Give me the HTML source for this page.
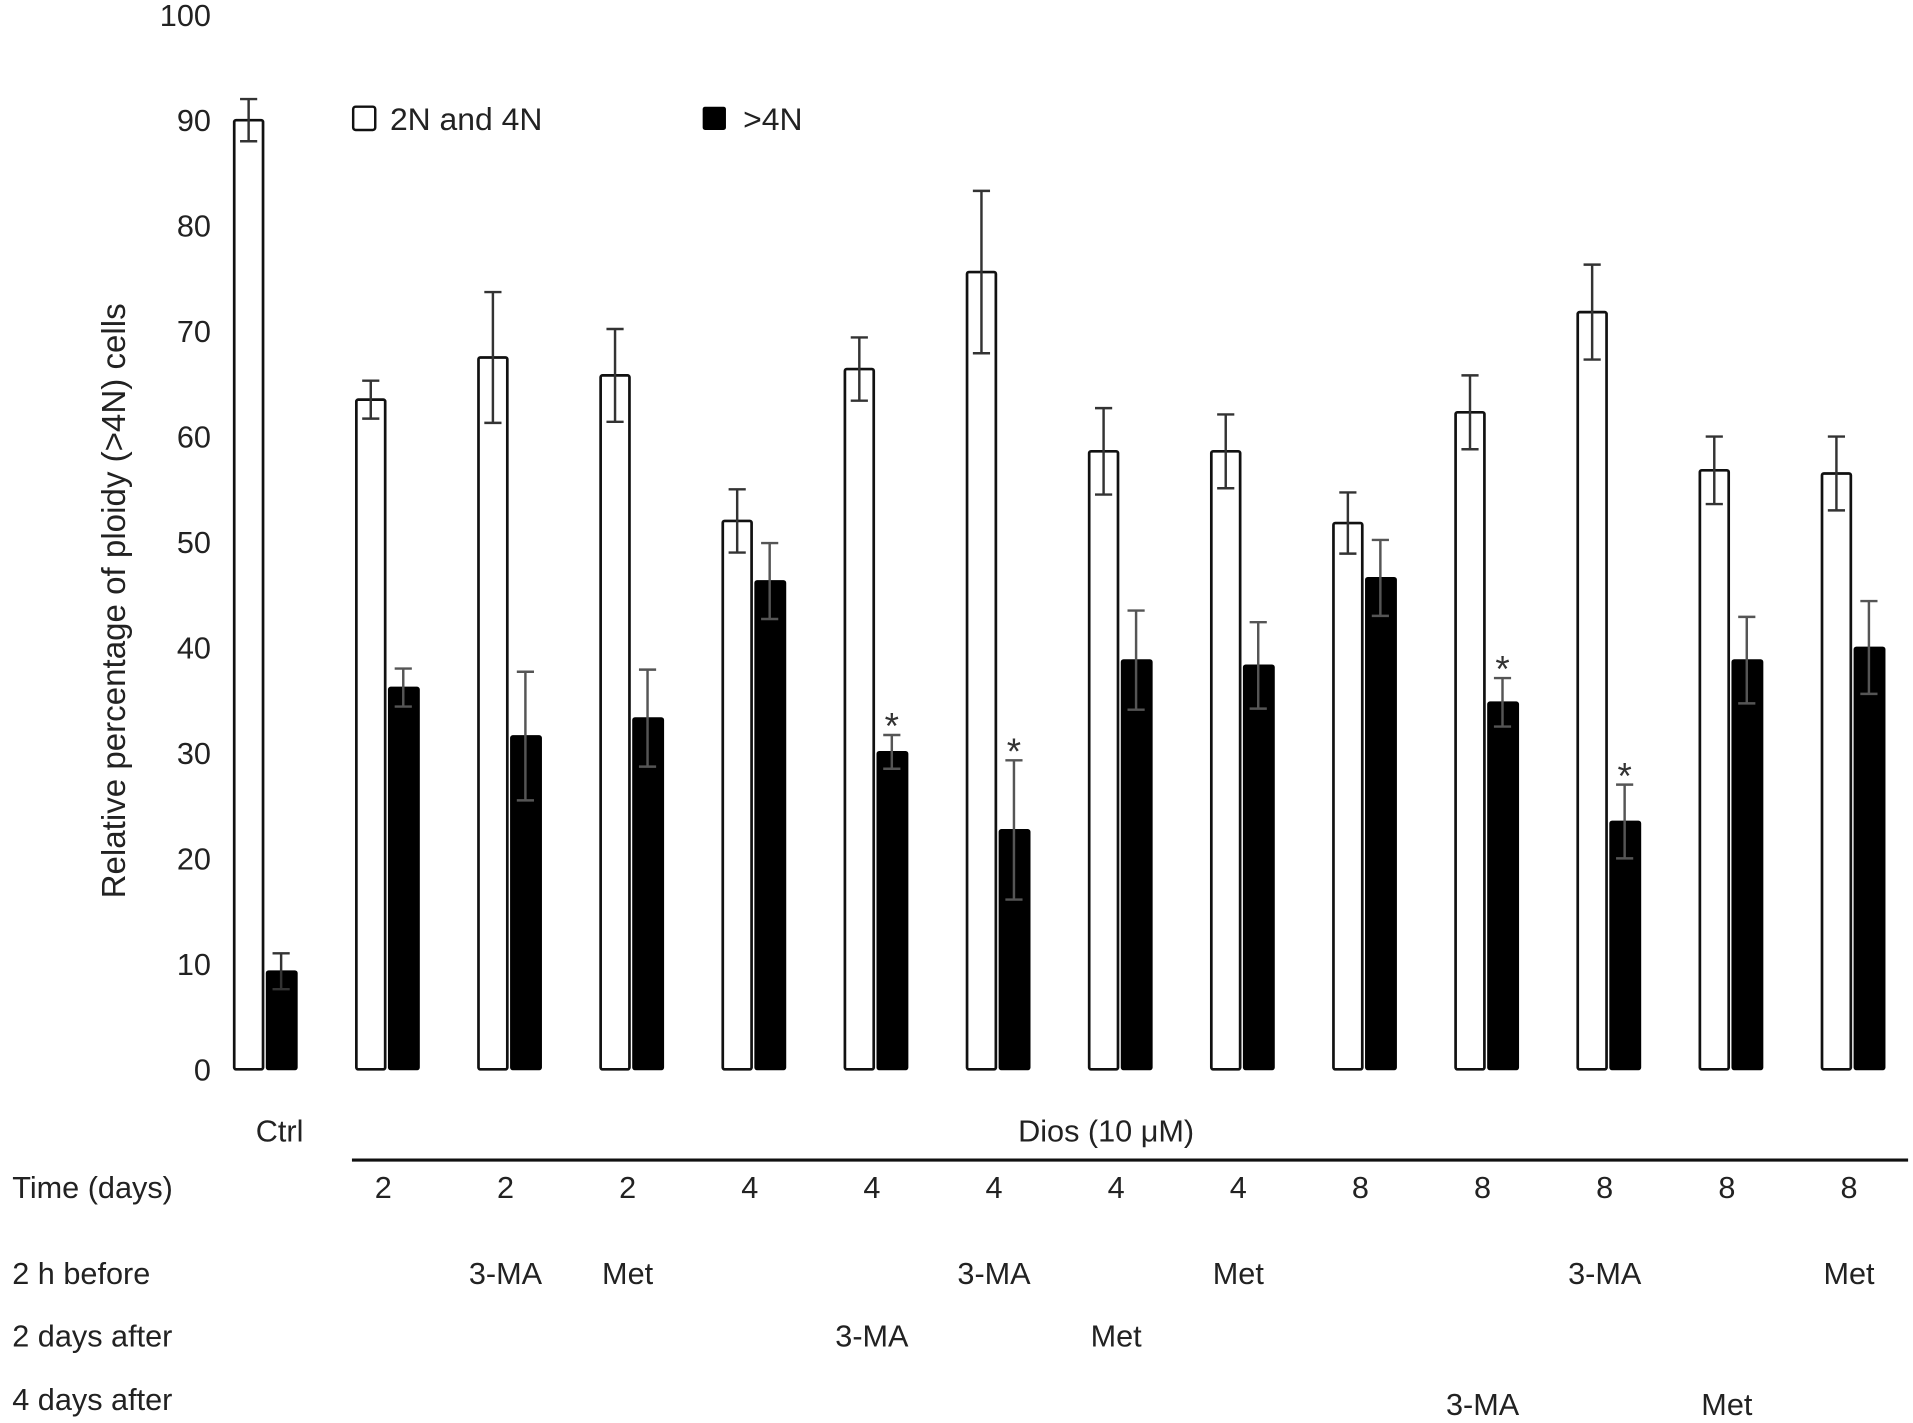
<!DOCTYPE html>
<html><head><meta charset="utf-8"><style>
html,body{margin:0;padding:0;background:#fff;}
svg{display:block;font-family:"Liberation Sans",Arial,sans-serif;}
</style></head><body>
<svg id="chart" width="1913" height="1423" viewBox="0 0 1560 1160.4" preserveAspectRatio="none" xmlns="http://www.w3.org/2000/svg"></svg>
<script>
const timeLabels = ["", "2","2","2","4","4","4","4","4","8","8","8","8","8"];
const beforeLabels = ["", "","3-MA","Met","","","3-MA","","Met","","","3-MA","","Met"];
const after2Labels = ["", "","","","","3-MA","","Met","","","","","",""];
const after4Labels = ["", "","","","","","","","","","3-MA","","Met",""];
const whiteValues = [90, 63.5, 67.5, 65.8, 52, 66.4, 75.6, 58.6, 58.6, 51.8, 62.3, 71.8, 56.8, 56.5];
const whiteErrors = [2, 1.8, 6.2, 4.4, 3, 3, 7.7, 4.1, 3.5, 2.9, 3.5, 4.5, 3.2, 3.5];
const blackValues = [9.3, 36.2, 31.6, 33.3, 46.3, 30.1, 22.7, 38.8, 38.3, 46.6, 34.8, 23.5, 38.8, 40];
const blackErrors = [1.7, 1.8, 6.1, 4.6, 3.6, 1.6, 6.6, 4.7, 4.1, 3.6, 2.3, 3.5, 4.1, 4.4];
const significant = [false,false,false,false,false,true,true,false,false,false,true,true,false,false];
const yTicks = [0,10,20,30,40,50,60,70,80,90,100];

const NS="http://www.w3.org/2000/svg";
const svg=document.getElementById('chart');
function y(v){return 872 - v*8.6;}
function gx(i){return 216 + i*99.6;}
function el(tag,attrs,text){const e=document.createElementNS(NS,tag);for(const k in attrs)e.setAttribute(k,attrs[k]);if(text!==undefined)e.textContent=text;svg.appendChild(e);return e;}
const BW=23.5, GAP=3;

yTicks.forEach(t=>{
  const e=el('text',{x:172,y:y(t)+9,'text-anchor':'end','font-size':25,fill:'#222'},String(t));
  
  
});
const yt=el('text',{x:0,y:0,transform:'translate(102,490) rotate(-90)','text-anchor':'middle','font-size':27,fill:'#222'},'Relative percentage of ploidy (>4N) cells');



function errBar(cx,v,e,name){
  const g=el('path',{d:`M${cx},${y(v+e)}V${y(v-e)}M${cx-7},${y(v+e)}H${cx+7}M${cx-7},${y(v-e)}H${cx+7}`,stroke:'#333','stroke-width':2,fill:'none'});
  
  
}
whiteValues.forEach((v,i)=>{
  const cx=gx(i);
  const wx=cx-GAP/2-BW, bx=cx+GAP/2;
  const w=el('rect',{x:wx,y:y(v),width:BW,height:y(0)-y(v),fill:'#fff',stroke:'#111','stroke-width':2.2,rx:1.5});
  
  
  errBar(wx+BW/2,v,whiteErrors[i],'error-bar-2n-4n-'+i);
  const bv=blackValues[i];
  const b=el('rect',{x:bx,y:y(bv),width:BW+1,height:y(0)-y(bv),fill:'#000',stroke:'#000','stroke-width':1.5,rx:1.5});
  
  
  const e2=el('path',{d:`M${bx+BW/2},${y(bv+blackErrors[i])}V${y(bv-blackErrors[i])}M${bx+BW/2-7},${y(bv+blackErrors[i])}H${bx+BW/2+7}M${bx+BW/2-7},${y(bv-blackErrors[i])}H${bx+BW/2+7}`,stroke:i>0?'#555':'#333','stroke-width':2,fill:'none'});
  
  
  if(significant[i]){
    const s=el('text',{x:bx+BW/2,y:y(bv+blackErrors[i])+3,'text-anchor':'middle','font-size':30,fill:'#333'},'*');
    
    
  }
  const rows=[[timeLabels,977],[beforeLabels,1047],[after2Labels,1098],[after4Labels,1154]];
  rows.forEach(([arr,yy],r)=>{
    if(arr[i]){
      const t=el('text',{x:cx-3,y:yy,'text-anchor':'middle','font-size':25,fill:'#222'},arr[i]);
      
      
    }
  });
});
</script>
<script>
(function(){
const NS="http://www.w3.org/2000/svg";const svg=document.getElementById('chart');
function el(tag,attrs,text,name){const e=document.createElementNS(NS,tag);for(const k in attrs)e.setAttribute(k,attrs[k]);if(text!==undefined)e.textContent=text;svg.appendChild(e);


return e;}
el('rect',{x:288,y:87,width:18,height:19,fill:'#fff',stroke:'#111','stroke-width':2,rx:2},undefined,'legend-swatch-2n-4n');
el('text',{x:318,y:106,'font-size':26,fill:'#222'},'2N and 4N','legend-label-2n-4n');
el('rect',{x:573,y:87,width:19,height:19,fill:'#000',rx:2},undefined,'legend-swatch-gt4n');
el('text',{x:606,y:106,'font-size':26,fill:'#222'},'>4N','legend-label-gt4n');
el('text',{x:228,y:931,'text-anchor':'middle','font-size':25,fill:'#222'},'Ctrl','ctrl-label');
el('text',{x:902,y:931,'text-anchor':'middle','font-size':25,fill:'#222'},'Dios (10 μM)','dios-label');
el('line',{x1:287,y1:946,x2:1556,y2:946,stroke:'#111','stroke-width':2.5},undefined,'dios-bracket-line');
el('text',{x:10,y:977,'font-size':25,fill:'#222'},'Time (days)','row-title-time');
el('text',{x:10,y:1047,'font-size':25,fill:'#222'},'2 h before','row-title-2h-before');
el('text',{x:10,y:1098,'font-size':25,fill:'#222'},'2 days after','row-title-2-days-after');
el('text',{x:10,y:1150,'font-size':25,fill:'#222'},'4 days after','row-title-4-days-after');
})();
</script>
</body></html>
